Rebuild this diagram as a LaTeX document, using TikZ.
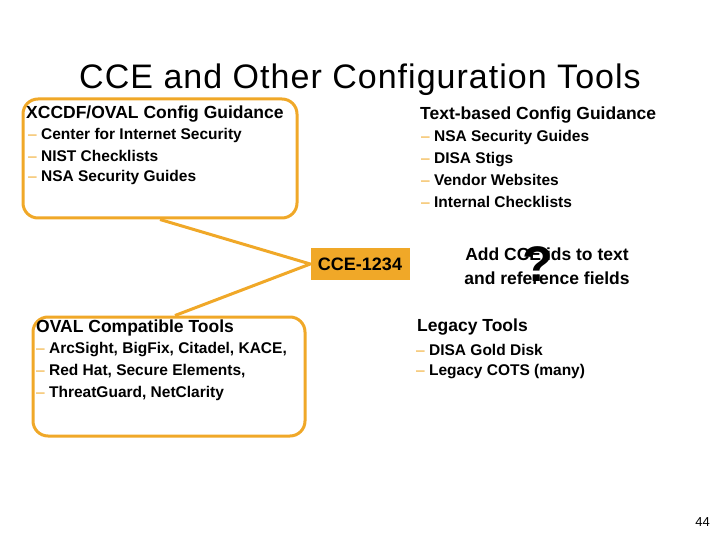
\documentclass[tikz,border=0pt]{standalone}
\usepackage{fontspec}
\setmainfont{Liberation Sans}
\newfontfamily\titlefont[LetterSpace=3]{Liberation Sans}
\usetikzlibrary{positioning}
\definecolor{cceorange}{RGB}{240,168,40}
\newcommand{\itemdash}{{\mdseries\color{cceorange}\textendash}\ }

\begin{document}
\begin{tikzpicture}[x=1pt,y=-1pt,
  bubble/.style={draw=cceorange, line width=3pt, rounded corners=15pt, inner sep=0pt},
  head/.style={anchor=west, inner sep=0pt, font=\bfseries\fontsize{17.5}{21}\selectfont},
  item/.style={anchor=west, inner sep=0pt, font=\bfseries\fontsize{15.5}{18}\selectfont},
  tail/.style={cceorange, line width=3pt, line join=round}]
  \useasboundingbox (0,0) rectangle (720,540);
  \node[inner sep=0pt, font=\titlefont\fontsize{34}{40}\selectfont] (title) at (360,80) {CCE and Other Configuration Tools};

  % XCCDF/OVAL guidance
  \node[bubble, minimum width=274, minimum height=119] (xbox) at (160,158.5) {};
  \node[head] (xhead) at (26,114) {XCCDF/OVAL Config Guidance};
  \foreach \t [count=\i] in {Center for Internet Security, NIST Checklists, NSA Security Guides}
    \node[item] (xitem\i) at (28,114+21*\i) {\itemdash\t};

  % text-based guidance
  \node[head] (thead) at (420,115) {Text-based Config Guidance};
  \foreach \t [count=\i] in {NSA Security Guides, DISA Stigs, Vendor Websites, Internal Checklists}
    \node[item] (titem\i) at (421,116.5+21.3*\i) {\itemdash\t};

  % the CCE id
  \node[fill=cceorange, minimum width=99, minimum height=32, inner sep=0pt,
        font=\bfseries\fontsize{18}{21}\selectfont] (cce) at (360,264) {CCE-1234};
  \node[align=center, inner sep=0pt, font=\bfseries\fontsize{17.5}{24}\selectfont] (addids) at (547,266)
    {Add CCE ids to text\\and reference fields};
  \node[inner sep=0pt, font=\bfseries\fontsize{50}{54}\selectfont] (qmark) at (538,264) {?};

  % OVAL tools
  \node[bubble, minimum width=272, minimum height=119] (obox) at (169,376.5) {};
  \node[head] (ohead) at (36,328) {OVAL Compatible Tools};
  \foreach \t [count=\i] in {{ArcSight, BigFix, Citadel, KACE,}, {Red Hat, Secure Elements,}, {ThreatGuard, NetClarity}}
    \node[item] (oitem\i) at (36,328+21.7*\i) {\itemdash\t};

  % legacy tools
  \node[head] (lhead) at (417,327) {Legacy Tools};
  \foreach \t [count=\i] in {DISA Gold Disk, Legacy COTS (many)}
    \node[item] (litem\i) at (416,327+22.5*\i) {\itemdash\t};

  \draw[tail] (xbox.south) -- (cce.west) -- ([xshift=6pt]obox.north);

  \node[anchor=east, inner sep=0pt, font=\fontsize{13}{15}\selectfont] (page) at (710,522) {44};
\end{tikzpicture}
\end{document}
